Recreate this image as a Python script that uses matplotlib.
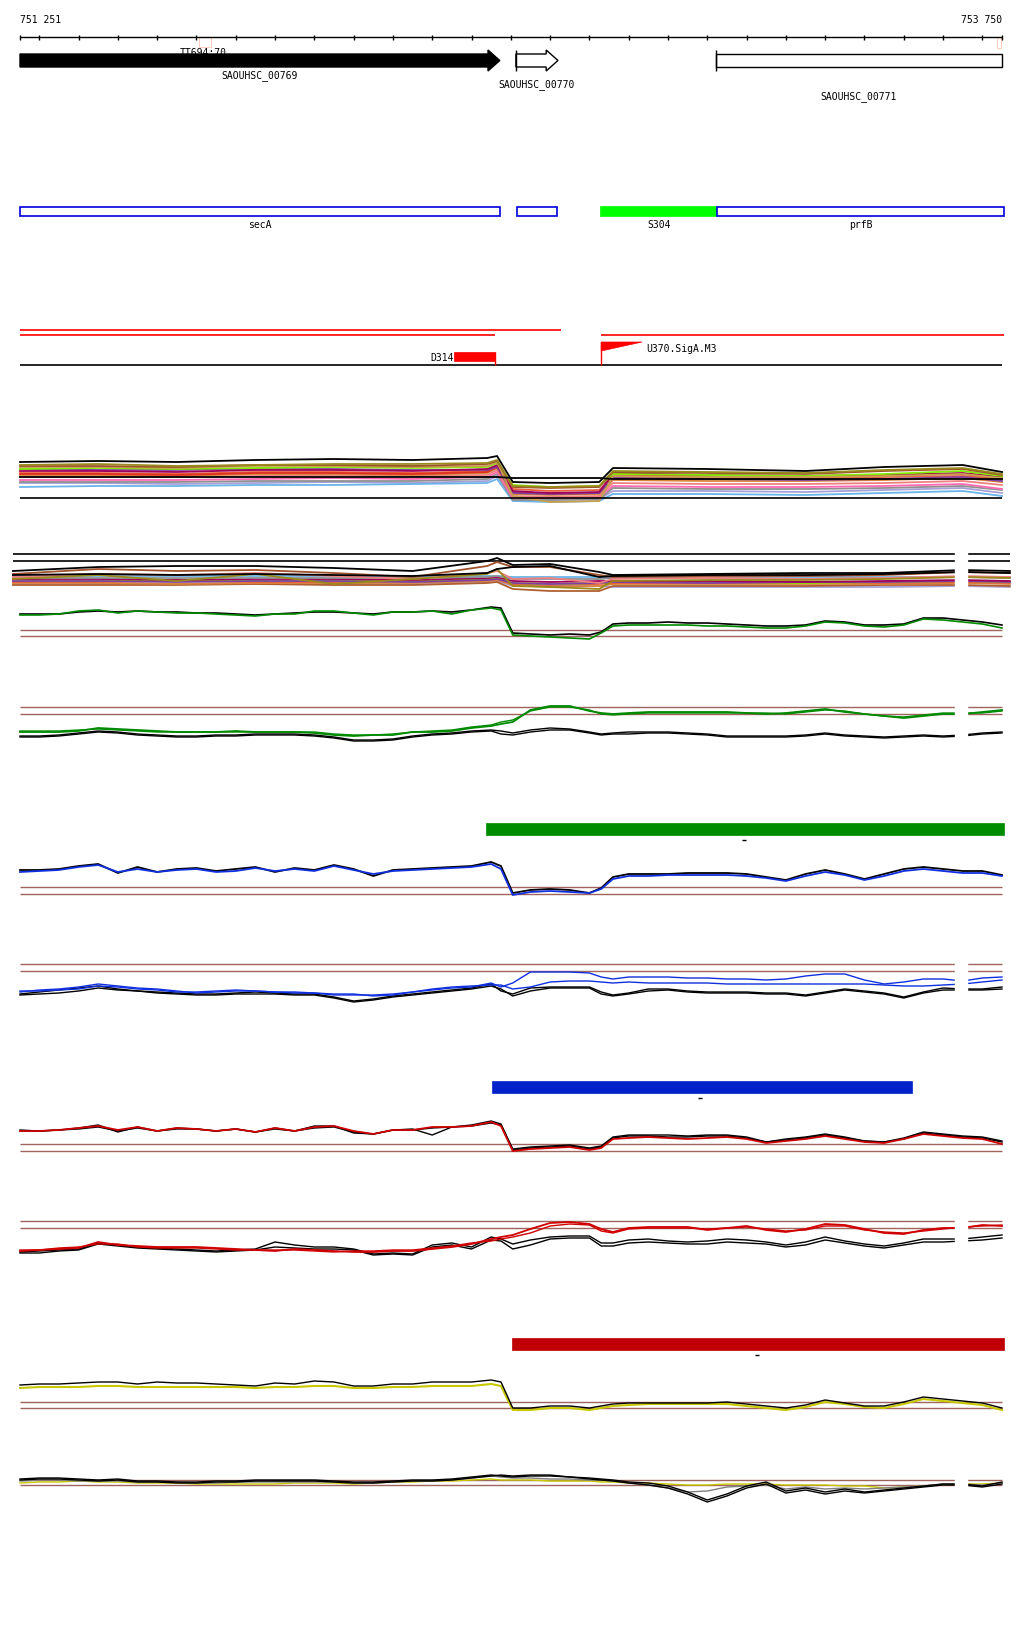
import matplotlib
matplotlib.use("Agg")
import matplotlib.pyplot as plt
from matplotlib.patches import Polygon, Rectangle

# ventana genomica
inicio, fin = 751251, 753750
W, H = 1024, 1640
bp_px = (fin - inicio) / 982.0
XL = (inicio - 20 * bp_px, inicio - 20 * bp_px + W * bp_px)

# genes (pista superior)
gen_nombres = ["SAOUHSC_00769", "SAOUHSC_00770", "SAOUHSC_00771"]
gen_ini = [751251, 752513, 753022]
gen_fin = [752472, 752620, 753750]
gen_fila_etq = [76, 85, 97]

# anotaciones (pista 2)
anot_nombres = ["secA", "", "S304", "prfB"]
anot_ini = [751251, 752516, 752730, 753025]
anot_fin = [752472, 752618, 753025, 753755]
anot_color = ["white", "white", "#00ff00", "white"]

# terminadores / promotores (pista 3)
red_ini = [751251, 751251, 752730]
red_fin = [752628, 752460, 753755]
term_nombre, term_ini, term_fin = "D314", 752355, 752460
prom_nombre, prom_ini, prom_fin = "U370.SigA.M3", 752730, 752834

# barras de segmentos
barra_ini = [752437, 752452, 752503]
barra_fin = [753755, 753521, 753755]
barra_color = ["#008c00", "#0022c8", "#c00000"]
barra_guion = [753093, 752981, 753127]

# nudos de los perfiles
pos = [751251] + list(range(751300, 752451, 50)) + \
    [752475, 752505, 752550, 752600, 752650, 752700, 752730, 752760] + \
    list(range(752800, 753751, 50))

# nudos de los haces de colores
pos_a = [751251, 751450, 751650, 751850, 752050, 752250, 752440, 752465, 752505,
         752600, 752725, 752760, 753000, 753250, 753450, 753650, 753750]
pos_b = [751233, 751450, 751650, 751850, 752050, 752250, 752440, 752465, 752505,
         752600, 752725, 752760, 753000, 753250, 753450, 753650, 753770]

haz_a_colores = ["#a8a0d8", "#6ab4e8", "#909090", "#ff69b4", "#f08080", "#d8843c",
                 "#e8603c", "#e03020", "#8040a0", "#a0005a", "#80f000", "#c8a050",
                 "#a0522d", "#9a8a1c", "black", "black"]
haz_a = [
    [16, 16, 15, 16, 17, 16, 18, 23, 0, -1, 0, 8, 8, 7, 9, 11, 6],
    [12, 13, 13, 14, 14, 15, 16, 20, -2, -3, -2, 5, 5, 4, 6, 8, 3],
    [17, 17, 17, 18, 18, 18, 20, 25, -1, -1, 0, 11, 10, 10, 11, 13, 9],
    [19, 19, 19, 20, 21, 20, 22, 27, 1, 1, 2, 13, 12, 12, 13, 15, 10],
    [22, 22, 22, 23, 24, 23, 24, 29, 3, 2, 3, 16, 15, 15, 16, 18, 14],
    [24, 24, 23, 25, 25, 24, 26, 31, 5, 4, 5, 19, 18, 18, 19, 21, 17],
    [26, 26, 25, 27, 27, 26, 28, 33, 10, 8, 9, 22, 21, 21, 22, 23, 20],
    [25, 25, 24, 26, 26, 25, 27, 32, 7, 5, 6, 24, 23, 23, 24, 25, 21],
    [30, 29, 29, 30, 30, 29, 29, 32, 6, 5, 6, 21, 20, 19, 20, 22, 18],
    [28, 28, 27, 29, 29, 28, 30, 34, 8, 6, 7, 26, 24, 23, 24, 26, 22],
    [30, 31, 30, 31, 32, 31, 32, 36, 14, 12, 13, 25, 24, 23, 25, 28, 23],
    [32, 32, 31, 33, 33, 32, 33, 37, 3, -3, -2, 23, 22, 22, 23, 25, 21],
    [33, 33, 32, 34, 34, 33, 35, 38, 12, 11, 12, 27, 26, 25, 28, 30, 24],
    [34, 35, 33, 34, 35, 35, 36, 39, 13, 12, 13, 28, 27, 26, 29, 31, 25],
    [22, 22, 22, 22, 22, 22, 22, 22, 21, 21, 21, 20, 20, 20, 20, 20, 20],
    [37, 38, 37, 39, 40, 39, 41, 43, 17, 16, 17, 31, 30, 28, 32, 34, 27],
]

haz_b_colores = ["#a8a0d8", "#b06030", "#d8843c", "#e8603c", "#80f000", "#8040a0",
                 "#a0005a", "#6ab4e8", "#909090", "#f08080", "#9a8a1c", "#a0522d",
                 "black", "black"]
haz_b = [
    [5, 5, 5, 5, 5, 5, 7, 8, 3, 3, 3, 2, 2, 2, 2, 3, 2],
    [4, 4, 4, 5, 4, 4, 6, 7, 0, -2, -2, 3, 3, 3, 4, 4, 3],
    [6, 6, 5, 6, 6, 6, 8, 9, 4, 2, 3, 5, 5, 5, 5, 6, 5],
    [7, 7, 8, 7, 7, 8, 9, 10, 5, 4, 5, 6, 6, 6, 6, 7, 6],
    [9, 8, 9, 8, 9, 8, 10, 11, 6, 5, 6, 7, 7, 6, 7, 8, 7],
    [8, 8, 7, 8, 8, 7, 9, 10, 6, 5, 6, 7, 6, 7, 7, 8, 7],
    [10, 10, 9, 10, 10, 9, 11, 12, 8, 7, 8, 8, 8, 7, 8, 9, 8],
    [13, 13, 13, 13, 13, 13, 13, 13, 12, 12, 12, 12, 12, 12, 12, 12, 12],
    [11, 11, 11, 11, 11, 11, 12, 13, 10, 10, 10, 11, 11, 10, 11, 12, 11],
    [12, 15, 14, 16, 13, 10, 16, 18, 10, 11, 6, 10, 11, 10, 11, 13, 12],
    [10, 14, 8, 15, 5, 10, 15, 20, 3, 2, 0, 8, 9, 9, 10, 12, 11],
    [15, 20, 18, 19, 16, 12, 23, 27, 22, 22, 14, 12, 13, 13, 14, 17, 16],
    [14, 15, 14, 15, 14, 13, 16, 20, 22, 23, 12, 13, 14, 14, 15, 17, 16],
    [18, 22, 23, 23, 21, 18, 28, 31, 24, 25, 17, 14, 15, 16, 16, 19, 18],
]

b_verde = [24, 24, 25, 28, 29, 26, 28, 27, 26, 26, 25, 24, 23, 25, 25, 28, 28, 26, 24, 27, 27, 28, 25, 29, 31,
           29, 4, 3, 2, 1, 0, 6, 13,
           14, 14, 14, 14, 13, 13, 12, 11, 11, 13, 17, 16, 13, 12, 14, 20, 19, 17, 15, 11]
b_negro = [25, 25, 25, 27, 28, 27, 28, 27, 27, 26, 26, 25, 24, 25, 26, 27, 27, 26, 25, 27, 27, 28, 27, 29, 32,
           31, 6, 5, 4, 5, 4, 7, 15,
           16, 16, 17, 16, 16, 15, 14, 13, 13, 14, 18, 17, 14, 14, 15, 21, 21, 19, 17, 14]

c_verde = [12, 12, 12, 13, 16, 15, 14, 13, 12, 12, 12, 13, 12, 12, 12, 11, 9, 8, 9, 9, 12, 12, 13, 16, 18,
           20, 22, 34, 38, 38, 33, 31, 30,
           31, 32, 32, 32, 32, 32, 31, 30, 31, 33, 35, 32, 30, 28, 26, 28, 30, 30, 32, 34]
c_verde2 = [13, 13, 13, 14, 15, 14, 13, 12, 12, 12, 12, 12, 12, 12, 12, 12, 10, 9, 9, 10, 12, 13, 14, 17, 19,
            22, 24, 33, 37, 37, 34, 30, 29,
            30, 31, 31, 31, 31, 31, 31, 31, 30, 32, 34, 33, 30, 28, 27, 29, 31, 31, 31, 33]
c_negro = [8, 8, 9, 11, 13, 12, 10, 9, 8, 8, 9, 9, 10, 10, 10, 9, 7, 4, 4, 5, 8, 10, 11, 13, 14,
           13, 11, 14, 16, 15, 12, 10, 11,
           12, 12, 12, 11, 10, 8, 8, 8, 8, 9, 11, 9, 8, 7, 8, 9, 8, 9, 11, 12]
c_negro2 = [7, 7, 8, 10, 12, 11, 9, 8, 7, 7, 8, 8, 9, 9, 9, 8, 6, 3, 3, 4, 7, 9, 10, 12, 13,
            10, 9, 12, 14, 14, 11, 9, 10,
            10, 11, 11, 10, 9, 7, 7, 7, 7, 8, 10, 8, 7, 6, 7, 8, 7, 8, 10, 11]

d_azul = [22, 23, 24, 27, 29, 22, 25, 22, 24, 25, 22, 23, 26, 23, 25, 23, 28, 24, 20, 23, 24, 25, 26, 27, 30,
          25, -1, 2, 3, 2, 1, 5, 15,
          18, 18, 19, 19, 19, 19, 18, 16, 13, 18, 22, 19, 14, 18, 23, 25, 23, 21, 21, 18]
d_negro = [24, 24, 25, 28, 30, 21, 27, 22, 25, 26, 23, 25, 27, 22, 26, 24, 29, 25, 18, 24, 25, 26, 27, 28, 32,
           28, 1, 4, 5, 4, 1, 6, 17,
           20, 20, 20, 21, 21, 21, 20, 17, 14, 20, 24, 20, 15, 20, 25, 27, 25, 23, 23, 19]

e_azul = [7, 9, 10, 12, 15, 13, 11, 10, 8, 6, 7, 8, 8, 7, 6, 6, 5, 5, 3, 4, 7, 9, 11, 12, 16,
          12, 16, 27, 27, 27, 26, 22, 20,
          22, 22, 22, 21, 21, 20, 20, 19, 20, 23, 25, 25, 19, 15, 17, 20, 20, 18, 21, 22]
e_azul2 = [8, 8, 9, 10, 13, 12, 10, 9, 7, 7, 8, 9, 8, 7, 7, 6, 4, 4, 4, 5, 7, 10, 12, 13, 14,
           14, 10, 12, 17, 18, 18, 17, 16,
           17, 16, 16, 16, 16, 15, 15, 15, 15, 15, 15, 15, 15, 14, 13, 13, 14, 15, 17, 19]
e_negro = [5, 7, 9, 11, 13, 10, 8, 7, 6, 5, 5, 6, 7, 6, 5, 5, 2, -2, 0, 3, 5, 7, 9, 11, 15,
           8, 5, 11, 12, 12, 12, 7, 4,
           6, 10, 10, 8, 7, 7, 7, 6, 6, 4, 7, 10, 8, 6, 2, 7, 11, 10, 10, 12]
e_negro2 = [4, 5, 6, 8, 11, 9, 8, 6, 5, 4, 4, 5, 5, 5, 4, 4, 1, -3, -1, 2, 4, 6, 8, 10, 13,
            10, 3, 8, 11, 11, 11, 5, 3,
            5, 8, 9, 7, 6, 6, 6, 5, 5, 3, 6, 9, 7, 5, 1, 6, 9, 9, 9, 10]

f_rojo = [20, 20, 21, 23, 25, 21, 24, 20, 23, 22, 20, 22, 19, 23, 20, 24, 25, 20, 17, 21, 21, 24, 24, 25, 29,
          25, 0, 2, 3, 4, 1, 3, 12,
          13, 14, 13, 12, 13, 14, 12, 8, 10, 12, 15, 12, 9, 8, 12, 17, 15, 13, 12, 7]
f_negro = [21, 20, 21, 23, 26, 19, 24, 20, 23, 22, 20, 22, 19, 23, 20, 25, 25, 18, 17, 21, 22, 16, 24, 26, 30,
           27, 2, 4, 5, 6, 3, 5, 14,
           16, 16, 16, 15, 16, 16, 14, 9, 12, 14, 17, 14, 10, 9, 13, 19, 17, 15, 14, 10]
f_negro2 = [20, 20, 21, 22, 24, 20, 23, 20, 22, 22, 20, 22, 19, 22, 20, 23, 24, 19, 17, 21, 21, 23, 24, 25, 28,
            26, 1, 3, 4, 5, 2, 4, 13,
            15, 15, 14, 14, 15, 15, 13, 9, 11, 13, 16, 13, 10, 9, 12, 18, 16, 14, 13, 9]

g_rojo = [8, 9, 10, 11, 17, 14, 13, 12, 12, 12, 11, 10, 9, 8, 10, 9, 8, 7, 7, 8, 8, 10, 12, 15, 20,
          22, 24, 30, 36, 37, 35, 30, 27,
          31, 32, 32, 32, 29, 31, 33, 29, 27, 30, 35, 34, 30, 26, 25, 29, 31, 31, 34, 33]
g_rojo2 = [9, 9, 11, 12, 15, 15, 12, 11, 11, 11, 10, 9, 9, 9, 9, 8, 7, 8, 8, 9, 9, 11, 13, 16, 18,
           20, 22, 26, 33, 35, 34, 28, 26,
           30, 31, 31, 31, 30, 31, 32, 30, 28, 29, 33, 33, 29, 27, 26, 28, 30, 32, 33, 34]
g_negro = [7, 8, 9, 10, 16, 14, 12, 11, 10, 9, 8, 9, 10, 17, 14, 12, 12, 10, 5, 6, 5, 14, 16, 12, 22,
           20, 15, 19, 22, 23, 23, 16, 16,
           19, 20, 18, 17, 18, 20, 19, 17, 14, 17, 22, 18, 15, 13, 16, 20, 20, 20, 22, 24]
g_negro2 = [6, 6, 8, 9, 15, 13, 11, 10, 9, 8, 7, 8, 9, 12, 11, 10, 10, 9, 4, 5, 4, 12, 14, 10, 19,
            18, 10, 14, 20, 21, 21, 13, 13,
            16, 17, 16, 15, 15, 17, 16, 15, 12, 14, 19, 16, 13, 11, 14, 17, 17, 18, 19, 21]

h_negro = [24, 25, 25, 26, 27, 27, 25, 27, 26, 26, 25, 24, 23, 26, 25, 28, 27, 23, 23, 25, 25, 27, 27, 27, 29,
           27, 1, 1, 3, 3, 1, 3, 5,
           6, 6, 6, 6, 6, 7, 5, 3, 1, 4, 9, 6, 3, 3, 7, 12, 10, 8, 6, 1]
h_amarillo = [21, 22, 22, 22, 23, 23, 22, 22, 22, 22, 22, 22, 21, 22, 22, 23, 23, 21, 21, 22, 22, 23, 23, 23, 25,
              23, -1, -1, 1, 1, -1, 1, 3,
              4, 5, 5, 5, 5, 5, 3, 1, -1, 2, 7, 5, 2, 1, 5, 10, 8, 6, 4, -1]

i_negro = [15, 16, 16, 15, 14, 15, 13, 13, 12, 12, 13, 13, 14, 14, 14, 14, 13, 12, 12, 13, 14, 14, 15, 17, 19,
           18, 17, 18, 18, 17, 16, 15, 14,
           12, 11, 8, 2, -6, 0, 8, 12, 3, 6, 2, 5, 2, 4, 6, 8, 10, 10, 8, 12]
i_negro2 = [14, 15, 15, 14, 13, 14, 12, 12, 11, 11, 12, 12, 13, 13, 13, 13, 12, 11, 11, 12, 13, 13, 14, 16, 18,
            19, 18, 19, 19, 17, 15, 14, 13,
            11, 9, 6, 0, -8, -2, 6, 10, 1, 4, 0, 3, 1, 3, 5, 7, 9, 9, 7, 10]
i_gris = [13, 14, 14, 13, 13, 13, 12, 12, 12, 11, 11, 12, 12, 12, 12, 12, 12, 11, 11, 12, 13, 13, 14, 16, 18,
          17, 16, 16, 15, 15, 14, 14, 13,
          11, 9, 6, 2, 3, 7, 8, 9, 5, 7, 5, 6, 5, 6, 7, 8, 10, 10, 9, 11]
i_amarillo = [11, 12, 12, 13, 12, 12, 11, 11, 11, 10, 10, 10, 10, 10, 11, 11, 11, 10, 11, 12, 12, 13, 13, 14, 15,
              14, 14, 14, 13, 13, 13, 12, 12,
              11, 11, 10, 9, 9, 10, 10, 10, 9, 9, 9, 8, 8, 6, 7, 8, 9, 10, 10, 11]

hueco = (753630, 753661)
MARRON = "#a0645f"
FUENTE = "DejaVu Sans Mono"

fig = plt.figure(figsize=(W / 100, H / 100), dpi=100)
ax = fig.add_axes([0, 0, 1, 1])
ax.set_xlim(XL)
ax.set_ylim(H, 0)
ax.axis("off")


def texto(x, fila, s, ha="center", z=3):
    ax.text(x, fila, s, ha=ha, va="center", fontsize=7, family=FUENTE, zorder=z)


# regla
texto(inicio, 20, "751 251", ha="left")
texto(fin, 20, "753 750", ha="right")
ax.hlines(38, inicio, fin, color="black", lw=1)
marcas = [inicio] + list(range(751300, 753701, 100)) + [fin]
ax.vlines(marcas, 36, 41, color="black", lw=1)
ax.add_patch(Rectangle((751706, 38), 31, 10, fill=False, ec="#ffd0c0", lw=0.8))
ax.add_patch(Rectangle((753737, 38), 11, 11, fill=False, ec="#ffd0c0", lw=0.8))
texto(751717, 53, "TT694:70", z=1)

# genes
punta = 30
g0, g1 = gen_ini[0], gen_fin[0]
ax.add_patch(Polygon([(g0, 55), (g1 - punta, 55), (g1 - punta, 51), (g1, 61.5),
                      (g1 - punta, 72), (g1 - punta, 68), (g0, 68)],
                     closed=True, fc="black", ec="black", lw=1, zorder=2))
g0, g1 = gen_ini[1], gen_fin[1]
ax.add_patch(Polygon([(g0, 55), (g1 - punta, 55), (g1 - punta, 51), (g1, 61.5),
                      (g1 - punta, 72), (g1 - punta, 68), (g0, 68)],
                     closed=True, fc="white", ec="black", lw=1, zorder=2))
ax.vlines(g0, 51, 72, color="black", lw=1)
g0, g1 = gen_ini[2], gen_fin[2]
ax.add_patch(Rectangle((g0, 55), g1 - g0, 13, fc="white", ec="black", lw=1, zorder=2))
ax.vlines(g0, 51, 72, color="black", lw=1)
for n, a, b, f in zip(gen_nombres, gen_ini, gen_fin, gen_fila_etq):
    texto((a + b) / 2, f, n)

# anotaciones
for n, a, b, c in zip(anot_nombres, anot_ini, anot_fin, anot_color):
    ec = "#0000e0" if c == "white" else c
    ax.add_patch(Rectangle((a, 208), b - a, 9, fc=c, ec=ec, lw=1.2))
    if n:
        texto((a + b) / 2, 225, n)

# terminadores y promotores
for a, b, f in zip(red_ini, red_fin, [331, 336, 336]):
    ax.hlines(f, a, b, color="#ff0000", lw=1.2)
ax.hlines(366, inicio, fin, color="black", lw=1.2)
ax.add_patch(Rectangle((term_ini, 353), term_fin - term_ini, 9, fc="#ff0000", ec="#ff0000", lw=0.5))
ax.vlines(term_fin, 353, 366, color="#ff0000", lw=1)
texto(term_ini, 358, term_nombre, ha="right")
ax.add_patch(Polygon([(prom_ini, 343), (prom_fin, 343), (prom_ini, 352)],
                     closed=True, fc="#ff0000", ec="#ff0000", lw=0.5))
ax.vlines(prom_ini, 343, 366, color="#ff0000", lw=1)
texto(prom_fin + 10, 349, prom_nombre, ha="left")

# barras de segmentos
for a, b, c, gu, f in zip(barra_ini, barra_fin, barra_color, barra_guion, [824, 1082, 1339]):
    ax.add_patch(Rectangle((a, f), b - a, 12, fc=c, ec=c, lw=0.5))
    ax.hlines(f + 17, gu - 5, gu + 5, color="black", lw=1)


def panel(arriba, abajo, base):
    a = fig.add_axes([0, 1 - abajo / H, 1, (abajo - arriba) / H])
    a.set_xlim(XL)
    a.set_ylim(base - abajo, base - arriba)
    a.axis("off")
    a.patch.set_alpha(0)
    return a


def refs(a, niveles, color, x0=inicio, x1=fin, lw=1.0):
    for v in niveles:
        a.hlines(v, x0, x1, color=color, lw=lw)


def tapar(a):
    a.axvspan(hueco[0], hueco[1], color="white", zorder=10)


# panel A: haz de colores
pa = panel(440, 512, 500)
for ys, c in zip(haz_a, haz_a_colores):
    pa.plot(pos_a, ys, color=c, lw=1.3)
refs(pa, [1], "black", lw=1.2)

# panel B: haz de colores
pb = panel(545, 596, 590)
refs(pb, [35, 28], "black", pos_b[0], pos_b[-1], lw=1.2)
for ys, c in zip(haz_b, haz_b_colores):
    pb.plot(pos_b, ys, color=c, lw=1.3)
tapar(pb)

# paneles de perfiles
pb2 = panel(598, 646, 640)
refs(pb2, [9, 3], MARRON)
pb2.plot(pos, b_negro, color="black", lw=1.2)
pb2.plot(pos, b_verde, color="#008a00", lw=1.2)

pc = panel(698, 752, 745)
refs(pc, [37, 30], MARRON)
pc.plot(pos, c_negro, color="black", lw=1.0)
pc.plot(pos, c_negro2, color="black", lw=1.0)
pc.plot(pos, c_verde2, color="#008a00", lw=1.0)
pc.plot(pos, c_verde, color="#008a00", lw=1.3)
tapar(pc)

pd = panel(855, 902, 895)
refs(pd, [7, 0], MARRON)
pd.plot(pos, d_negro, color="black", lw=1.3)
pd.plot(pos, d_azul, color="#1030e0", lw=1.3)

pe = panel(955, 1010, 1000)
refs(pe, [35, 28], MARRON)
pe.plot(pos, e_negro, color="black", lw=1.0)
pe.plot(pos, e_negro2, color="black", lw=1.0)
pe.plot(pos, e_azul2, color="#1030e0", lw=1.0)
pe.plot(pos, e_azul, color="#1030e0", lw=1.0)
tapar(pe)

pf = panel(1110, 1160, 1152)
refs(pf, [7, 0], MARRON)
pf.plot(pos, f_negro, color="black", lw=1.0)
pf.plot(pos, f_negro2, color="black", lw=1.0)
pf.plot(pos, f_rojo, color="#d00000", lw=1.3)

pg = panel(1210, 1265, 1260)
refs(pg, [38, 31], MARRON)
pg.plot(pos, g_negro, color="black", lw=1.0)
pg.plot(pos, g_negro2, color="black", lw=1.0)
pg.plot(pos, g_rojo2, color="#d00000", lw=1.0)
pg.plot(pos, g_rojo, color="#d00000", lw=1.3)
tapar(pg)

ph = panel(1370, 1415, 1410)
refs(ph, [7, 1], MARRON)
ph.plot(pos, h_amarillo, color="#c8c800", lw=1.5)
ph.plot(pos, h_negro, color="black", lw=1.0)

pi = panel(1465, 1510, 1495)
refs(pi, [14, 9], MARRON)
pi.plot(pos, i_amarillo, color="#c8c800", lw=1.0)
pi.plot(pos, i_gris, color="#808080", lw=1.0)
pi.plot(pos, i_negro2, color="black", lw=1.0)
pi.plot(pos, i_negro, color="black", lw=1.0)
tapar(pi)

fig.savefig("out.png", dpi=100, facecolor="white")
